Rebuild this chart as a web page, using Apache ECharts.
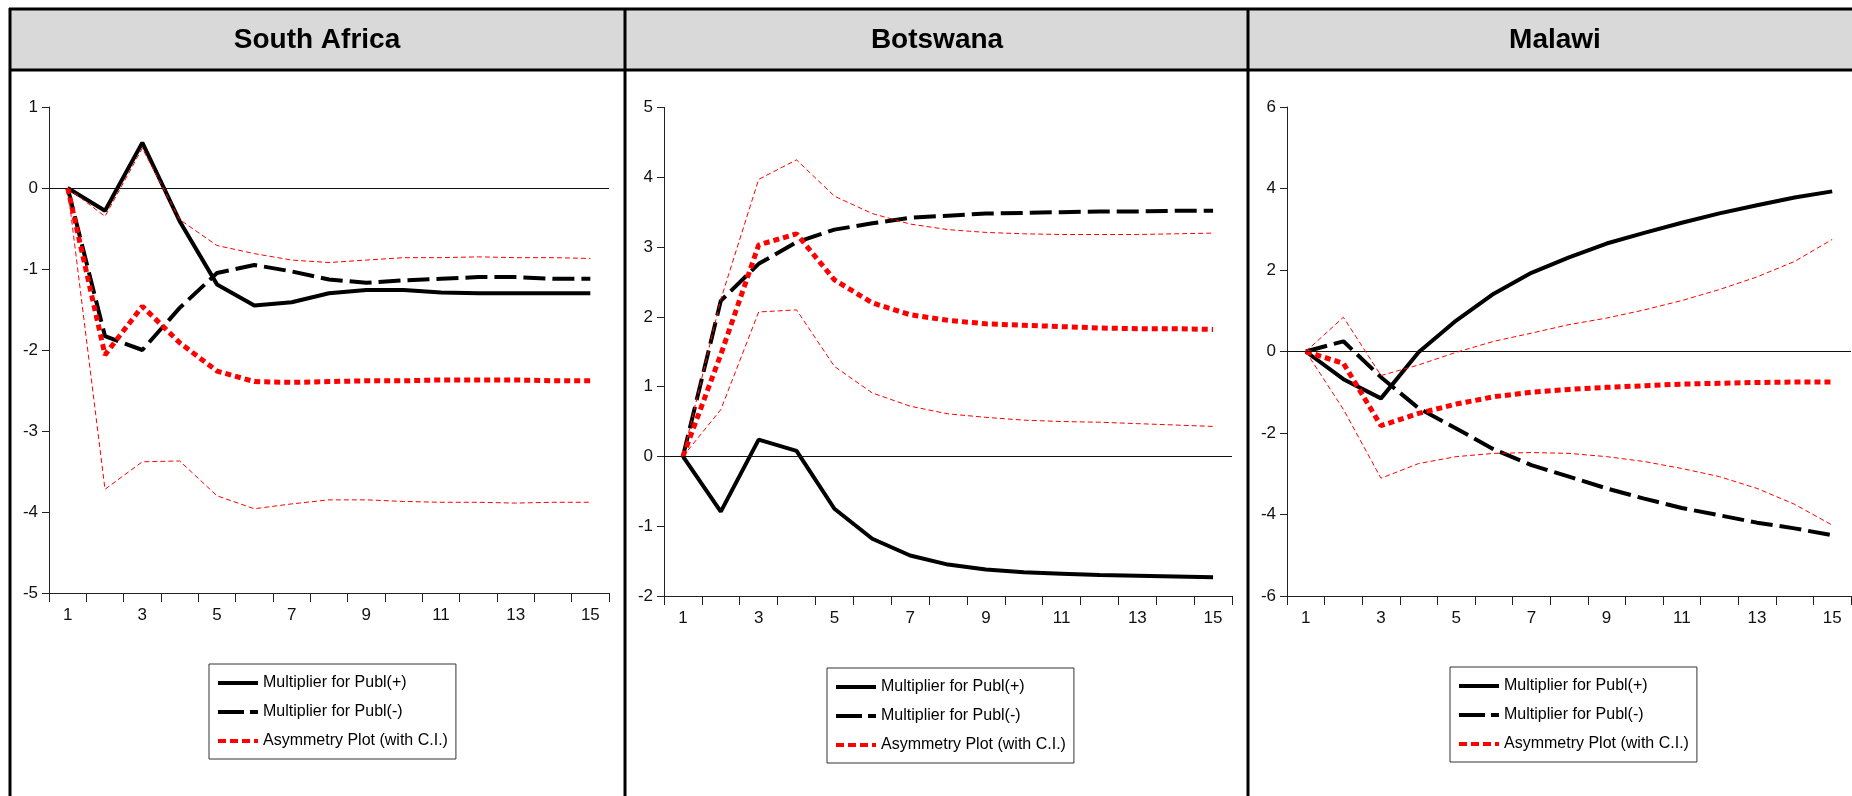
<!DOCTYPE html>
<html>
<head>
<meta charset="utf-8">
<title>Asymmetric multipliers</title>
<script src="https://cdn.jsdelivr.net/npm/echarts@6/dist/echarts.min.js"></script>
<style>
  html, body { margin: 0; padding: 0; background: #ffffff; }
  #chart { width: 1852px; height: 796px; }
</style>
</head>
<body>
<div id="chart"></div>
<script>
// Horizon (periods) shared by every panel
const periods = ['1','2','3','4','5','6','7','8','9','10','11','12','13','14','15'];

// South Africa
const saPos  = [0, -0.28, 0.56, -0.41, -1.19, -1.45, -1.41, -1.30, -1.26, -1.26, -1.29, -1.30, -1.30, -1.30, -1.30];
const saNeg  = [0, -1.83, -2.00, -1.48, -1.05, -0.95, -1.03, -1.13, -1.17, -1.14, -1.12, -1.10, -1.10, -1.12, -1.12];
const saAsym = [0, -2.06, -1.46, -1.91, -2.26, -2.39, -2.40, -2.39, -2.38, -2.38, -2.37, -2.37, -2.37, -2.38, -2.38];
const saUp   = [0, -0.35, 0.49, -0.39, -0.71, -0.81, -0.89, -0.92, -0.89, -0.86, -0.86, -0.85, -0.86, -0.86, -0.87];
const saLo   = [0, -3.72, -3.38, -3.37, -3.80, -3.96, -3.90, -3.85, -3.85, -3.87, -3.88, -3.88, -3.89, -3.88, -3.88];

// Botswana
const bwPos  = [0, -0.79, 0.24, 0.08, -0.75, -1.18, -1.42, -1.55, -1.62, -1.66, -1.68, -1.70, -1.71, -1.72, -1.73];
const bwNeg  = [0, 2.23, 2.76, 3.07, 3.25, 3.34, 3.42, 3.45, 3.48, 3.49, 3.50, 3.51, 3.51, 3.52, 3.52];
const bwAsym = [0, 1.46, 3.03, 3.19, 2.53, 2.20, 2.03, 1.95, 1.90, 1.88, 1.86, 1.84, 1.83, 1.83, 1.82];
const bwUp   = [0, 2.25, 3.97, 4.25, 3.73, 3.48, 3.33, 3.25, 3.21, 3.19, 3.18, 3.18, 3.18, 3.19, 3.20];
const bwLo   = [0, 0.67, 2.07, 2.10, 1.29, 0.91, 0.72, 0.61, 0.56, 0.52, 0.50, 0.49, 0.47, 0.45, 0.43];

// Malawi
const mwPos  = [0, -0.68, -1.15, -0.02, 0.76, 1.42, 1.93, 2.31, 2.65, 2.91, 3.16, 3.39, 3.59, 3.78, 3.93];
const mwNeg  = [0, 0.25, -0.63, -1.39, -1.89, -2.40, -2.79, -3.07, -3.36, -3.61, -3.84, -4.02, -4.20, -4.34, -4.51];
const mwAsym = [0, -0.29, -1.82, -1.52, -1.29, -1.11, -1.00, -0.93, -0.88, -0.84, -0.80, -0.78, -0.76, -0.75, -0.75];
const mwUp   = [0, 0.84, -0.59, -0.33, -0.02, 0.25, 0.45, 0.66, 0.82, 1.02, 1.25, 1.52, 1.83, 2.21, 2.75];
const mwLo   = [0, -1.42, -3.11, -2.75, -2.58, -2.50, -2.48, -2.50, -2.58, -2.70, -2.87, -3.07, -3.36, -3.75, -4.26];

// Panel titles and y-axis ranges
const titles = ['South Africa', 'Botswana', 'Malawi'];
const yMin = [-5, -2, -6];
const yMax = [1, 5, 6];
const yStep = [1, 1, 2];

const NAME_POS  = 'Multiplier for Publ(+)';
const NAME_NEG  = 'Multiplier for Publ(-)';
const NAME_ASYM = 'Asymmetry Plot (with C.I.)';

const panels = [
  { pos: saPos, neg: saNeg, asym: saAsym, up: saUp, lo: saLo },
  { pos: bwPos, neg: bwNeg, asym: bwAsym, up: bwUp, lo: bwLo },
  { pos: mwPos, neg: mwNeg, asym: mwAsym, up: mwUp, lo: mwLo }
];

const FONT = "'Liberation Sans Narrow', 'Arial Narrow', 'Liberation Sans', sans-serif";

// Plot areas, header band geometry and legend boxes
const grids = [
  { left: 49,   top: 107, width: 560, height: 486 },
  { left: 664,  top: 107.5, width: 568, height: 488.5 },
  { left: 1287, top: 107, width: 564, height: 489 }
];
const legendPos = [
  { left: 209,  top: 664 },
  { left: 827,  top: 668 },
  { left: 1450, top: 667 }
];
const titleX = [317, 937, 1555];

const NEG_DASH  = [22, 7];
const ASYM_DOT  = [6, 4];
const CI_DASH   = [5, 3];

const xAxes = grids.map((g, i) => ({
  type: 'category',
  gridIndex: i,
  data: periods,
  boundaryGap: true,
  axisLine: { show: true, onZero: false, lineStyle: { color: '#222', width: 1 } },
  axisTick: { show: true, interval: 0, length: 9, inside: false, lineStyle: { color: '#222', width: 1 } },
  axisLabel: { interval: 1, margin: 14, fontFamily: FONT, fontSize: 17, color: '#111' },
  splitLine: { show: false }
}));

const yAxes = grids.map((g, i) => ({
  type: 'value',
  gridIndex: i,
  min: yMin[i],
  max: yMax[i],
  interval: yStep[i],
  axisLine: { show: true, lineStyle: { color: '#222', width: 1 } },
  axisTick: { show: true, length: 7, lineStyle: { color: '#222', width: 1 } },
  axisLabel: { margin: 11, fontFamily: FONT, fontSize: 17, color: '#111', padding: [0, 0, 10, 0] },
  splitLine: { show: false }
}));

const series = [];
panels.forEach((p, i) => {
  series.push({
    name: NAME_POS, type: 'line', xAxisIndex: i, yAxisIndex: i, data: p.pos,
    symbol: 'none', z: 3,
    itemStyle: { color: '#000' },
    lineStyle: { color: '#000', width: 4, type: 'solid' },
    markLine: {
      silent: true, symbol: 'none', animation: false,
      label: { show: false },
      lineStyle: { color: '#111', width: 1, type: 'solid' },
      data: [{ yAxis: 0 }]
    }
  });
  series.push({
    name: NAME_NEG, type: 'line', xAxisIndex: i, yAxisIndex: i, data: p.neg,
    symbol: 'none', z: 3,
    itemStyle: { color: '#000' },
    lineStyle: { color: '#000', width: 4, type: NEG_DASH }
  });
  series.push({
    name: NAME_ASYM, type: 'line', xAxisIndex: i, yAxisIndex: i, data: p.asym,
    symbol: 'none', z: 4,
    itemStyle: { color: '#ff0000' },
    lineStyle: { color: '#ff0000', width: 5, type: ASYM_DOT }
  });
  series.push({
    name: 'Upper bound', type: 'line', xAxisIndex: i, yAxisIndex: i, data: p.up,
    symbol: 'none', z: 5,
    itemStyle: { color: '#ff0000' },
    lineStyle: { color: '#ff0000', width: 1, type: CI_DASH }
  });
  series.push({
    name: 'Lower bound', type: 'line', xAxisIndex: i, yAxisIndex: i, data: p.lo,
    symbol: 'none', z: 5,
    itemStyle: { color: '#ff0000' },
    lineStyle: { color: '#ff0000', width: 1, type: CI_DASH }
  });
});

// Legend keys: line sample only, no marker in the middle
const hiddenMarker = { color: 'rgba(0,0,0,0)', borderColor: 'rgba(0,0,0,0)', borderWidth: 0, opacity: 0 };
const legendItems = [
  { name: NAME_POS,  itemStyle: hiddenMarker, lineStyle: { color: '#000', width: 4, type: 'solid' } },
  { name: NAME_NEG,  itemStyle: hiddenMarker, lineStyle: { color: '#000', width: 4, type: [26, 6] } },
  { name: NAME_ASYM, itemStyle: hiddenMarker, lineStyle: { color: '#ff0000', width: 4, type: [8, 4] } }
];

const legends = legendPos.map(lp => ({
  orient: 'vertical',
  left: lp.left,
  top: lp.top,
  selectedMode: false,
  backgroundColor: '#fff',
  borderColor: '#333',
  borderWidth: 1,
  borderRadius: 0,
  padding: [9, 8, 8, 7],
  itemGap: 9,
  itemWidth: 40,
  itemHeight: 14,
  itemTextGap: 6,
  textStyle: { fontFamily: FONT, fontSize: 16, color: '#000', lineHeight: 20 },
  data: legendItems
}));

// Frame: grey title band, outer border and panel dividers, plus panel titles
const frame = [
  { type: 'rect', z: -1, shape: { x: 10, y: 9, width: 1850, height: 61 }, style: { fill: '#d9d9d9' } },
  { type: 'line', shape: { x1: 9, y1: 9, x2: 1852, y2: 9 }, style: { stroke: '#000', lineWidth: 3 } },
  { type: 'line', shape: { x1: 9, y1: 70, x2: 1852, y2: 70 }, style: { stroke: '#000', lineWidth: 3 } },
  { type: 'line', shape: { x1: 10, y1: 8, x2: 10, y2: 796 }, style: { stroke: '#000', lineWidth: 3 } },
  { type: 'line', shape: { x1: 625, y1: 8, x2: 625, y2: 796 }, style: { stroke: '#000', lineWidth: 3 } },
  { type: 'line', shape: { x1: 1248, y1: 8, x2: 1248, y2: 796 }, style: { stroke: '#000', lineWidth: 3 } }
];
titles.forEach((t, i) => {
  frame.push({
    type: 'text',
    style: {
      text: t, x: titleX[i], y: 40,
      align: 'center', verticalAlign: 'middle',
      textAlign: 'center', textVerticalAlign: 'middle',
      font: "bold 28px 'Liberation Sans', Arial, sans-serif",
      fill: '#000'
    }
  });
});

const chart = echarts.init(document.getElementById('chart'), null, { renderer: 'canvas' });
chart.setOption({
  animation: false,
  backgroundColor: '#ffffff',
  grid: grids.map(g => Object.assign({ containLabel: false }, g)),
  xAxis: xAxes,
  yAxis: yAxes,
  legend: legends,
  series: series,
  graphic: frame
});
</script>
</body>
</html>
